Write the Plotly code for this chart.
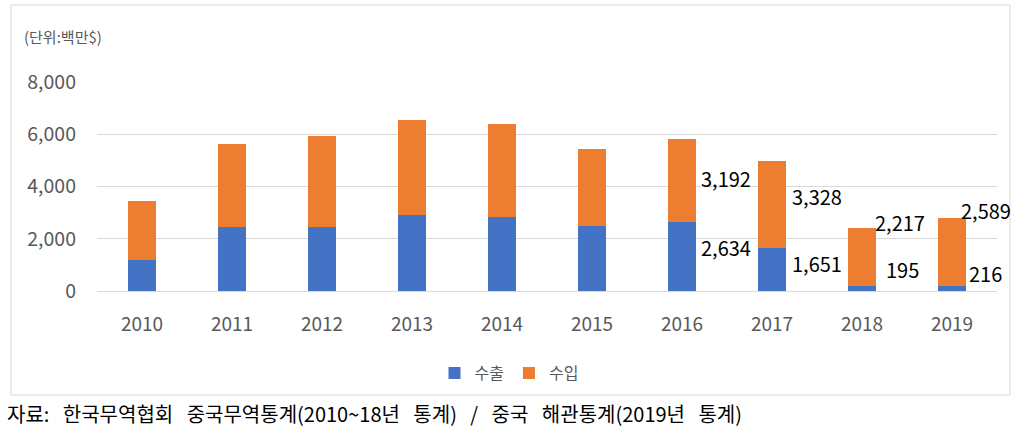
import plotly.graph_objects as go

# ---- data ----
years = ["2010", "2011", "2012", "2013", "2014", "2015", "2016", "2017", "2018", "2019"]
exports = [1180, 2470, 2470, 2915, 2840, 2490, 2634, 1651, 195, 216]     # 수출
imports = [2280, 3160, 3450, 3630, 3530, 2950, 3192, 3328, 2217, 2589]   # 수입
labeled_years = ["2016", "2017", "2018", "2019"]
y_ticks = [0, 2000, 4000, 6000, 8000]

# ---- styling ----
W, H = 1024, 431
BLUE = "#4472C4"
ORANGE = "#ED7D31"
GRAY = "#595959"
GRID = "#D9D9D9"
FONT = "Noto Sans CJK KR"
SP = "\u00a0\u00a0\u00a0"  # wide word gap of the source line

# manual label offsets (px) per labeled year: (dx, dy) for export and import labels
exp_label_off = {"2016": (44, 9), "2017": (45, 6), "2018": (40, 19), "2019": (33, 15)}
imp_label_off = {"2016": (44, 2), "2017": (45, 8), "2018": (38, 35), "2019": (34, 41)}

def px_x(p):
    return p / W

def px_y(p):
    return 1 - p / H

fig = go.Figure()
fig.add_bar(x=years, y=exports, name="수출", marker=dict(color=BLUE, line=dict(width=0)))
fig.add_bar(x=years, y=imports, name="수입", marker=dict(color=ORANGE, line=dict(width=0)))

annotations = []
for yr in labeled_years:
    i = years.index(yr)  # category index on the x axis
    e, im = exports[i], imports[i]
    dx, dy = exp_label_off[yr]
    annotations.append(dict(x=i, y=e / 2, xref="x", yref="y", text=f"{e:,}", showarrow=False,
                            xshift=dx, yshift=dy, font=dict(size=20, color="#000000", family=FONT)))
    dx, dy = imp_label_off[yr]
    annotations.append(dict(x=i, y=e + im / 2, xref="x", yref="y", text=f"{im:,}", showarrow=False,
                            xshift=dx, yshift=dy, font=dict(size=20, color="#000000", family=FONT)))

annotations.append(dict(x=px_x(22), y=px_y(36), xref="paper", yref="paper", xanchor="left", yanchor="middle",
                        text="(단위:백만$)", showarrow=False, font=dict(size=15, color=GRAY, family=FONT)))
source = ("자료:" + SP + "한국무역협회" + SP + "중국무역통계(2010~18년" + SP + "통계)" + SP + "/" + SP
          + "중국" + SP + "해관통계(2019년" + SP + "통계)")
annotations.append(dict(x=px_x(5), y=px_y(413), xref="paper", yref="paper", xanchor="left", yanchor="middle",
                        text=source, showarrow=False, font=dict(size=20, color="#000000", family=FONT)))

fig.update_layout(
    template="none",
    width=W, height=H,
    margin=dict(l=0, r=0, t=0, b=0, autoexpand=False),
    paper_bgcolor="white", plot_bgcolor="white",
    barmode="stack", bargap=0.69,
    font=dict(family=FONT, color=GRAY),
    xaxis=dict(domain=[px_x(97), px_x(997)], type="category", range=[-0.5, len(years) - 0.5],
               showgrid=False, showline=False, automargin=False,
               zeroline=False, ticks="", tickfont=dict(size=19, color=GRAY), ticklabelstandoff=20),
    yaxis=dict(domain=[px_y(291.3), px_y(81.7)], range=[0, 8000], tickvals=y_ticks, tickformat=",d",
               automargin=False,
               showgrid=True, gridcolor=GRID, gridwidth=1, zeroline=True, zerolinecolor=GRID, zerolinewidth=1,
               showline=False, ticks="", tickfont=dict(size=19.5, color=GRAY), ticklabelstandoff=20),
    legend=dict(orientation="h", x=px_x(509), y=px_y(373), xanchor="center", yanchor="middle",
                traceorder="normal",
                font=dict(size=16, color=GRAY, family=FONT), itemwidth=30, bgcolor="rgba(0,0,0,0)"),
    annotations=annotations,
    shapes=[dict(type="rect", xref="paper", yref="paper", x0=px_x(11), x1=px_x(1010), y0=px_y(395), y1=px_y(5),
                 line=dict(color=GRID, width=1), fillcolor="rgba(0,0,0,0)", layer="below")],
)

fig.write_html("out.html")
